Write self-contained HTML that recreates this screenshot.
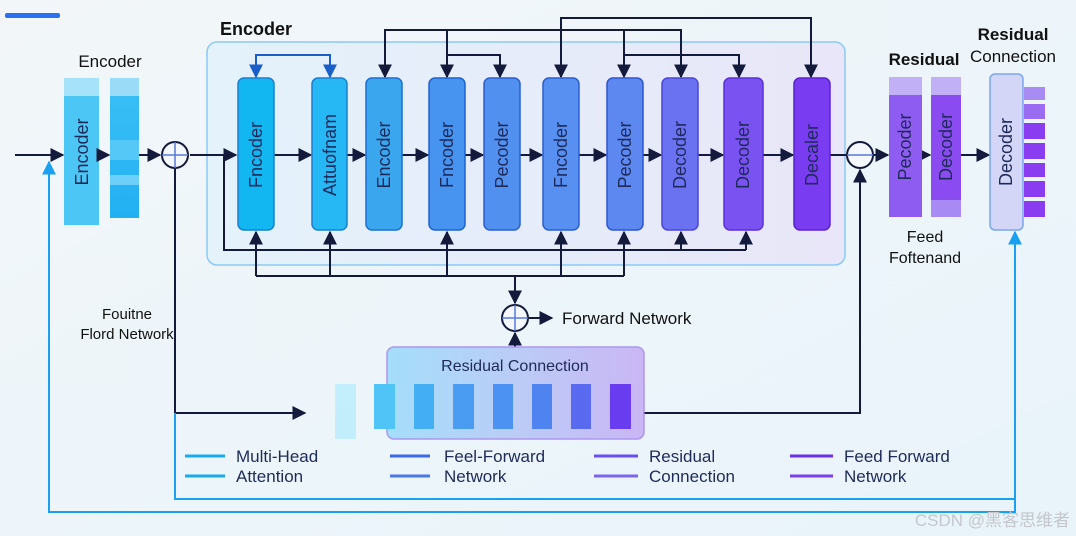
<!DOCTYPE html>
<html><head><meta charset="utf-8"><style>
html,body{margin:0;padding:0;width:1076px;height:536px;overflow:hidden;background:#eef4f8;}
svg{display:block;font-family:"Liberation Sans",sans-serif;}
</style></head><body>
<svg width="1076" height="536" viewBox="0 0 1076 536" xmlns="http://www.w3.org/2000/svg">
<defs>
<marker id="a" viewBox="0 0 10 10" refX="9" refY="5" markerWidth="7" markerHeight="7" orient="auto-start-reverse"><path d="M0,0 L10,5 L0,10 z" fill="#141a3c"/></marker>
<marker id="ab" viewBox="0 0 10 10" refX="9" refY="5" markerWidth="7" markerHeight="7" orient="auto-start-reverse"><path d="M0,0 L10,5 L0,10 z" fill="#1a5fc8"/></marker>
<marker id="ac" viewBox="0 0 10 10" refX="9" refY="5" markerWidth="7" markerHeight="7" orient="auto-start-reverse"><path d="M0,0 L10,5 L0,10 z" fill="#1aa0f0"/></marker>
<linearGradient id="bg" x1="0" x2="1" y1="0" y2="1"><stop offset="0" stop-color="#f2f6f9"/><stop offset="1" stop-color="#e8f4fa"/></linearGradient>
<linearGradient id="cont" x1="0" x2="1"><stop offset="0" stop-color="#e4f2fb"/><stop offset="1" stop-color="#e8e6f8"/></linearGradient>
<linearGradient id="rb" x1="0" x2="1"><stop offset="0" stop-color="#9ddcfa"/><stop offset="0.5" stop-color="#b6c8f6"/><stop offset="1" stop-color="#c7b0f5"/></linearGradient>
<linearGradient id="le" x1="0" x2="0" y1="0" y2="1"><stop offset="0" stop-color="#3cc0f6"/><stop offset="1" stop-color="#22b0f2"/></linearGradient>
</defs>
<rect width="1076" height="536" fill="url(#bg)"/>
<rect x="5" y="13" width="55" height="5" rx="2" fill="#2a6ff0"/>

<rect x="207" y="42" width="638" height="223" rx="10" fill="url(#cont)" stroke="#8ccaf5" stroke-width="1.5"/>
<text x="220" y="35" font-size="18" font-weight="bold" fill="#111">Encoder</text>

<text x="110" y="67" font-size="17" fill="#111" text-anchor="middle">Encoder</text>
<rect x="64" y="78" width="35" height="147" fill="#4cc6f5"/>
<rect x="64" y="78" width="35" height="18" fill="#a6e2fa"/>
<rect x="110" y="78" width="29" height="140" fill="url(#le)"/>
<rect x="110" y="78" width="29" height="18" fill="#9adcf8"/>
<rect x="110" y="140" width="29" height="20" fill="#55c8f8"/>
<rect x="110" y="175" width="29" height="10" fill="#6cd0f8"/>
<text transform="rotate(-90 82 152)" x="82" y="158" font-size="18" fill="#1e2a5a" text-anchor="middle">Encoder</text>

<g stroke="#141a3c" stroke-width="2" fill="none">
<line x1="15" y1="155" x2="63" y2="155" marker-end="url(#a)"/>
<line x1="99" y1="155" x2="109" y2="155" marker-end="url(#a)"/>
<line x1="139" y1="155" x2="160" y2="155" marker-end="url(#a)"/>
<line x1="190" y1="155" x2="236" y2="155" marker-end="url(#a)"/>
<line x1="274" y1="155" x2="311" y2="155" marker-end="url(#a)"/>
<line x1="347" y1="155" x2="365" y2="155" marker-end="url(#a)"/>
<line x1="402" y1="155" x2="428" y2="155" marker-end="url(#a)"/>
<line x1="465" y1="155" x2="483" y2="155" marker-end="url(#a)"/>
<line x1="520" y1="155" x2="542" y2="155" marker-end="url(#a)"/>
<line x1="579" y1="155" x2="606" y2="155" marker-end="url(#a)"/>
<line x1="643" y1="155" x2="661" y2="155" marker-end="url(#a)"/>
<line x1="698" y1="155" x2="723" y2="155" marker-end="url(#a)"/>
<line x1="763" y1="155" x2="793" y2="155" marker-end="url(#a)"/>
<line x1="830" y1="155" x2="846" y2="155"/>
<line x1="874" y1="155" x2="888" y2="155" marker-end="url(#a)"/>
<line x1="922" y1="155" x2="930" y2="155" marker-end="url(#a)"/>
<line x1="961" y1="155" x2="989" y2="155" marker-end="url(#a)"/>
<polyline points="385,77 385,30 681,30 681,77" marker-end="url(#a)"/>
<line x1="385" y1="30" x2="385" y2="77" marker-end="url(#a)"/>
<line x1="447" y1="30" x2="447" y2="77" marker-end="url(#a)"/>
<line x1="624" y1="30" x2="624" y2="77" marker-end="url(#a)"/>
<polyline points="561,77 561,18 811,18 811,77" marker-end="url(#a)"/>
<line x1="561" y1="18" x2="561" y2="77" marker-end="url(#a)"/>
<polyline points="447,55 500,55 500,77" marker-end="url(#a)"/>
<polyline points="624,55 739,55 739,77" marker-end="url(#a)"/>
<polyline points="224,155 224,250 746,250"/>
<line x1="681" y1="250" x2="681" y2="232" marker-end="url(#a)"/>
<line x1="746" y1="250" x2="746" y2="232" marker-end="url(#a)"/>
<line x1="256" y1="276" x2="624" y2="276"/>
<line x1="256" y1="276" x2="256" y2="232" marker-end="url(#a)"/>
<line x1="330" y1="276" x2="330" y2="232" marker-end="url(#a)"/>
<line x1="447" y1="276" x2="447" y2="232" marker-end="url(#a)"/>
<line x1="561" y1="276" x2="561" y2="232" marker-end="url(#a)"/>
<line x1="624" y1="276" x2="624" y2="232" marker-end="url(#a)"/>
<line x1="515" y1="276" x2="515" y2="303" marker-end="url(#a)"/>
<line x1="515" y1="347" x2="515" y2="333" marker-end="url(#a)"/>
<line x1="529" y1="318" x2="552" y2="318" marker-end="url(#a)"/>
<polyline points="175,169 175,413 305,413" marker-end="url(#a)"/>
<polyline points="643,413 860,413 860,170" marker-end="url(#a)"/>
</g>
<polyline points="256,77 256,55 330,55 330,77" fill="none" stroke="#1a5fc8" stroke-width="2"/>
<line x1="256" y1="55" x2="256" y2="77" stroke="#1a5fc8" stroke-width="2" marker-end="url(#ab)"/>
<line x1="330" y1="55" x2="330" y2="77" stroke="#1a5fc8" stroke-width="2" marker-end="url(#ab)"/>

<g stroke="#1aa0f0" stroke-width="2" fill="none">
<polyline points="175,413 175,499 1015,499"/>
<polyline points="49,162 49,512 1015,512 1015,232" marker-start="url(#ac)" marker-end="url(#ac)"/>
</g>

<g fill="#f4f8fc" stroke="#141a3c" stroke-width="2">
<circle cx="175" cy="155" r="13"/><circle cx="860" cy="155" r="13"/><circle cx="515" cy="318" r="13"/>
</g>
<g stroke="#5a7ad8" stroke-width="1.5">
<line x1="175" y1="142" x2="175" y2="168"/><line x1="162" y1="155" x2="188" y2="155"/>
<line x1="847" y1="155" x2="873" y2="155"/>
<line x1="515" y1="305" x2="515" y2="331"/><line x1="502" y1="318" x2="528" y2="318"/>
</g>

<g stroke-width="1.5">
<rect x="238" y="78" width="36" height="152" rx="6" fill="#12b6f0" stroke="#1a7fd0"/>
<rect x="312" y="78" width="35" height="152" rx="6" fill="#26b8f4" stroke="#1a7fd0"/>
<rect x="366" y="78" width="36" height="152" rx="6" fill="#3aa6ee" stroke="#1a6fd0"/>
<rect x="429" y="78" width="36" height="152" rx="6" fill="#4694f0" stroke="#1e62d0"/>
<rect x="484" y="78" width="36" height="152" rx="6" fill="#5290f0" stroke="#2a5ed0"/>
<rect x="543" y="78" width="36" height="152" rx="6" fill="#5890f2" stroke="#2a5ed0"/>
<rect x="607" y="78" width="36" height="152" rx="6" fill="#5c88f0" stroke="#2e56d0"/>
<rect x="662" y="78" width="36" height="152" rx="6" fill="#6a72f2" stroke="#4a46d8"/>
<rect x="724" y="78" width="39" height="152" rx="6" fill="#7a52f2" stroke="#5a30d8"/>
<rect x="794" y="78" width="36" height="152" rx="6" fill="#7a3cf0" stroke="#5a20d0"/>
</g>
<g font-size="18" fill="#1e2a5a" text-anchor="middle">
<text transform="rotate(-90 256 155)" x="256" y="161">Fncoder</text>
<text transform="rotate(-90 330 155)" x="330" y="161">Attuofnam</text>
<text transform="rotate(-90 384 155)" x="384" y="161">Encoder</text>
<text transform="rotate(-90 447 155)" x="447" y="161">Fncoder</text>
<text transform="rotate(-90 502 155)" x="502" y="161">Pecoder</text>
<text transform="rotate(-90 561 155)" x="561" y="161">Fncoder</text>
<text transform="rotate(-90 625 155)" x="625" y="161">Pecoder</text>
<text transform="rotate(-90 680 155)" x="680" y="161">Decoder</text>
<text transform="rotate(-90 743 155)" x="743" y="161">Decoder</text>
<text transform="rotate(-90 812 155)" x="812" y="161">Decaler</text>
</g>

<text x="924" y="65" font-size="17" font-weight="bold" fill="#111" text-anchor="middle">Residual</text>
<text x="1013" y="40" font-size="17" font-weight="bold" fill="#111" text-anchor="middle">Residual</text>
<text x="1013" y="62" font-size="17" fill="#111" text-anchor="middle">Connection</text>
<rect x="889" y="77" width="33" height="140" fill="#8e5cf0"/>
<rect x="889" y="77" width="33" height="18" fill="#c2b0f6"/>
<rect x="931" y="77" width="30" height="140" fill="#8a4cf0"/>
<rect x="931" y="77" width="30" height="18" fill="#c2b0f6"/>
<rect x="931" y="200" width="30" height="17" fill="#a78af4"/>
<rect x="990" y="74" width="33" height="156" rx="5" fill="#d4d6f8" stroke="#7aa6f0" stroke-width="1.5"/>
<g fill="#8a3cf0">
<rect x="1024" y="87" width="21" height="13" fill="#a88cf4"/>
<rect x="1024" y="104" width="21" height="15" fill="#9a6cf2"/>
<rect x="1024" y="123" width="21" height="16"/>
<rect x="1024" y="143" width="21" height="16"/>
<rect x="1024" y="163" width="21" height="14"/>
<rect x="1024" y="181" width="21" height="16"/>
<rect x="1024" y="201" width="21" height="16"/>
</g>
<g font-size="18" fill="#1e2a5a" text-anchor="middle">
<text transform="rotate(-90 905 147)" x="905" y="153">Pecoder</text>
<text transform="rotate(-90 946 147)" x="946" y="153">Decoder</text>
<text transform="rotate(-90 1006 152)" x="1006" y="158">Decoder</text>
</g>
<text x="925" y="242" font-size="16" fill="#111" text-anchor="middle">Feed</text>
<text x="925" y="263" font-size="16" fill="#111" text-anchor="middle">Foftenand</text>

<text x="127" y="319" font-size="15" fill="#111" text-anchor="middle">Fouitne</text>
<text x="127" y="339" font-size="15" fill="#111" text-anchor="middle">Flord Network</text>
<text x="562" y="324" font-size="17" fill="#111">Forward Network</text>

<rect x="387" y="347" width="257" height="92" rx="7" fill="url(#rb)" stroke="#a58cf0" stroke-width="1.5" opacity="0.9"/>
<text x="515" y="371" font-size="16" fill="#1e2a5a" text-anchor="middle">Residual Connection</text>
<rect x="335" y="384" width="21" height="55" fill="#b8ecfc" opacity="0.8"/>
<rect x="374" y="384" width="21" height="45" fill="#50c4f6"/>
<rect x="414" y="384" width="20" height="45" fill="#44aef4"/>
<rect x="453" y="384" width="21" height="45" fill="#4a9cf2"/>
<rect x="493" y="384" width="20" height="45" fill="#4c92f2"/>
<rect x="532" y="384" width="20" height="45" fill="#4f84f0"/>
<rect x="571" y="384" width="20" height="45" fill="#5a6af0"/>
<rect x="610" y="384" width="21" height="45" fill="#6a3cf0"/>

<g stroke-width="3">
<line x1="185" y1="456" x2="225" y2="456" stroke="#1aaaf0"/>
<line x1="185" y1="476" x2="225" y2="476" stroke="#1aaaf0"/>
<line x1="390" y1="456" x2="430" y2="456" stroke="#3a6ae8"/>
<line x1="390" y1="476" x2="430" y2="476" stroke="#4a78e8"/>
<line x1="594" y1="456" x2="638" y2="456" stroke="#6a4ef0"/>
<line x1="594" y1="476" x2="638" y2="476" stroke="#7a66ee"/>
<line x1="790" y1="456" x2="833" y2="456" stroke="#6a30e8"/>
<line x1="790" y1="476" x2="833" y2="476" stroke="#7a40ee"/>
</g>
<g font-size="17" fill="#1e2a5a">
<text x="236" y="462">Multi-Head</text><text x="236" y="482">Attention</text>
<text x="444" y="462">Feel-Forward</text><text x="444" y="482">Network</text>
<text x="649" y="462">Residual</text><text x="649" y="482">Connection</text>
<text x="844" y="462">Feed Forward</text><text x="844" y="482">Network</text>
</g>
<text x="1070" y="526" font-size="17" fill="#c4c8cc" text-anchor="end" font-family="Liberation Sans, Noto Sans CJK SC, sans-serif">CSDN @黑客思维者</text>
</svg>
</body></html>
